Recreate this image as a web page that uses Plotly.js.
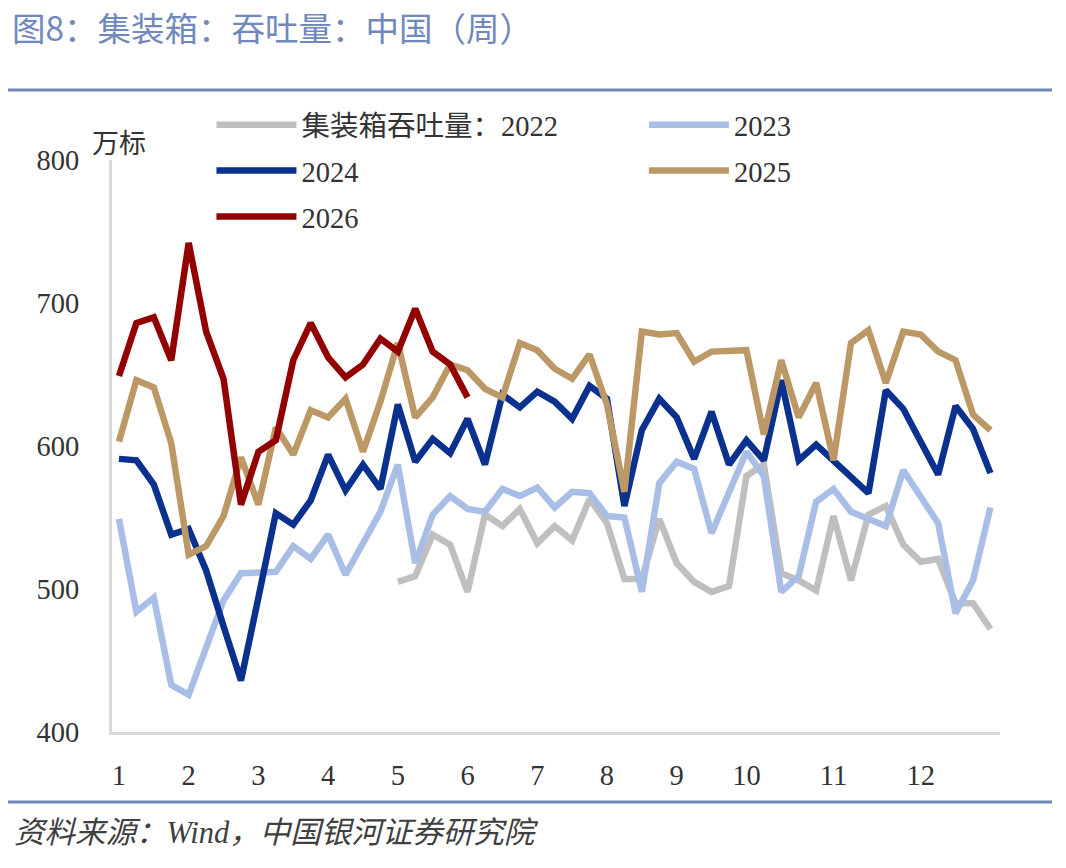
<!DOCTYPE html>
<html>
<head>
<meta charset="utf-8">
<script src="https://cdn.plot.ly/plotly-3.0.1.min.js"></script>
<style>html,body{margin:0;padding:0;background:#fff;}#chart{width:1066px;height:868px;}</style>
</head>
<body>
<div id="chart"></div>
<script>
// Week index (1..51); month labels sit on the first week of each month
const weeks = [1,2,3,4,5,6,7,8,9,10,11,12,13,14,15,16,17,18,19,20,21,22,23,24,25,26,27,28,29,30,31,32,33,34,35,36,37,38,39,40,41,42,43,44,45,46,47,48,49,50,51];
const monthTickWeeks = [1,5,9,13,17,21,25,29,33,37,42,47];
const monthLabels = ['1','2','3','4','5','6','7','8','9','10','11','12'];
const seriesNames = ['集装箱吞吐量：2022','2023','2024','2025','2026'];

const y2022 = [null,null,null,null,null,null,null,null,null,null,null,null,null,null,null,null,
  505,509,538,531,498,552,544,556,532,544,534,563,546,507,507,549,518,505,498,502,579,587,511,506,499,551,506,552,558,531,519,521,490,490,472];
const y2023 = [549,484,494,433,426,459,492,511,512,512,530,521,538,510,532,554,587,518,552,565,556,554,570,565,571,557,568,567,551,550,498,574,589,584,539,567,596,579,498,509,561,570,554,549,544,583,565,546,483,506,557];
const y2024 = [591,590,573,538,542,513,474,436,494,553,545,562,594,569,587,570,629,589,605,595,619,587,636,627,638,631,619,642,633,558,611,633,620,591,624,587,604,590,646,590,601,590,579,567,639,626,603,580,628,612,581];
const y2025 = [603,646,641,602,524,530,551,592,559,613,594,625,620,633,596,631,672,620,634,657,653,640,634,672,667,654,647,664,629,568,680,678,679,659,666,666,667,608,660,620,644,590,672,681,644,680,678,666,660,622,611];
const y2026 = [649,686,690,660,742,680,647,559,596,604,660,686,662,648,657,675,666,696,666,657,634];

const yTicks = [400,500,600,700,800];
const colors = ['#bfbfbf','#a9bee6','#0a318e','#bb9866','#930000'];
const allSeries = [y2022,y2023,y2024,y2025,y2026];
const legendIds = ['legend','legend2','legend3','legend4','legend5'];

const traces = allSeries.map((ys,k)=>({
  x: weeks.slice(0, ys.length),
  y: ys,
  type: 'scatter',
  mode: 'lines',
  name: seriesNames[k],
  legend: legendIds[k],
  line: {color: colors[k], width: 6.5},
  connectgaps: false,
  hoverinfo: 'x+y+name'
}));

const FONT = 'Liberation Serif, Noto Sans CJK SC, serif';
const CJK = 'Noto Sans CJK SC, Liberation Serif, sans-serif';

function legendAt(x, y){
  return {x: x, y: y, xanchor: 'left', yanchor: 'middle', orientation: 'v',
          bgcolor: 'rgba(0,0,0,0)', borderwidth: 0, itemwidth: 80,
          font: {family: FONT, size: 28.5, color: '#333333'}, tracegroupgap: 0};
}

const layout = {
  width: 1066, height: 868,
  margin: {l: 112, r: 66, t: 160, b: 136, pad: 0},
  paper_bgcolor: '#ffffff', plot_bgcolor: '#ffffff',
  font: {family: FONT, size: 28, color: '#333333'},
  title: {text: '图8：集装箱：吞吐量：中国（周）', xref: 'container', yref: 'container',
          x: 12/1066, xanchor: 'left', y: 1 - 29/868, yanchor: 'middle',
          font: {family: CJK, size: 33.5, color: '#7088bc'}},
  showlegend: true,
  legend: legendAt(0.112, 1.061),
  legend2: legendAt(0.599, 1.061),
  legend3: legendAt(0.112, 0.981),
  legend4: legendAt(0.599, 0.981),
  legend5: legendAt(0.112, 0.9005),
  xaxis: {
    range: [0.6, 51.55], showgrid: false, zeroline: false,
    showline: true, linecolor: '#d9d9d9', linewidth: 3,
    tickmode: 'array', tickvals: monthTickWeeks, ticktext: monthLabels,
    ticks: '', ticklabelstandoff: 16,
    tickfont: {family: FONT, size: 28.5, color: '#333333'}
  },
  yaxis: {
    range: [400, 800], showgrid: false, zeroline: false,
    showline: true, linecolor: '#d9d9d9', linewidth: 3,
    tickmode: 'array', tickvals: yTicks,
    ticks: '', ticklabelstandoff: 24,
    tickfont: {family: FONT, size: 28.5, color: '#333333'}
  },
  shapes: [
    {type: 'line', xref: 'paper', yref: 'paper', x0: -0.1171, x1: 1.0586, y0: 1.1224, y1: 1.1224,
     line: {color: '#6e86b5', width: 3}},
    {type: 'line', xref: 'paper', yref: 'paper', x0: -0.1171, x1: 1.0586, y0: -0.1224, y1: -0.1224,
     line: {color: '#6e86b5', width: 3}}
  ],
  annotations: [
    {text: '万标', xref: 'paper', yref: 'paper', x: 0.0079, y: 1.033, xanchor: 'center', yanchor: 'middle',
     showarrow: false, font: {family: CJK, size: 27, color: '#333333'}},
    {text: '<i>资料来源：Wind，中国银河证券研究院</i>', xref: 'paper', yref: 'paper', x: -0.1126, y: -0.1766,
     xanchor: 'left', yanchor: 'middle', showarrow: false,
     font: {family: FONT, size: 30.5, color: '#404040'}}
  ]
};

Plotly.newPlot('chart', traces, layout, {displayModeBar: false, staticPlot: true});
</script>
</body>
</html>
